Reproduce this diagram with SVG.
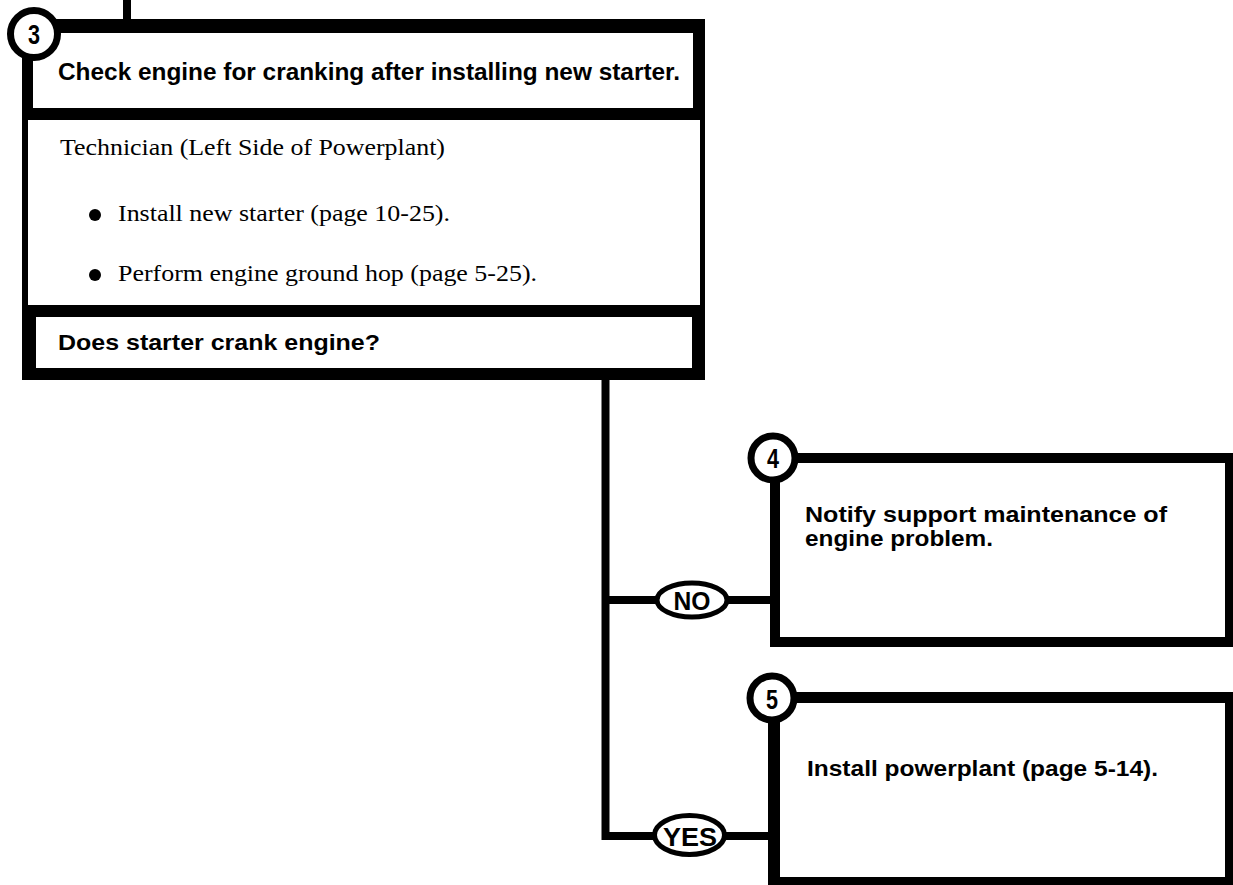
<svg xmlns="http://www.w3.org/2000/svg" width="1233" height="885" viewBox="0 0 1233 885">
<style>
.bg{fill:#fff}
.blk{fill:#000}
.wh{fill:#fff}
.ring{fill:#fff;stroke:#000;stroke-width:7}
.oval{fill:#fff;stroke:#000;stroke-width:5}
.ln{fill:none;stroke:#000;stroke-width:8}
.b{font-family:"Liberation Sans",Arial,sans-serif;font-weight:bold;fill:#000}
.s{font-family:"Liberation Serif","Times New Roman",serif;fill:#000}
.num{font-family:"Liberation Sans Narrow","Liberation Sans",Arial,sans-serif;font-weight:bold;fill:#000;text-anchor:middle}
</style>
<rect class="bg" x="0" y="0" width="1233" height="885"/>
<g id="connectors">
  <path class="ln" d="M127 0 V22" stroke-width="10"/>
  <path class="ln" d="M605.5 378 V836 H655"/>
  <path class="ln" d="M605.5 600 H658"/>
  <path class="ln" d="M727 600 H772"/>
  <path class="ln" d="M724 836 H770"/>
</g>
<g id="label-no">
  <ellipse class="oval" cx="692" cy="600" rx="35" ry="17"/>
  <text class="b" x="692" y="610" font-size="25" text-anchor="middle" textLength="37" lengthAdjust="spacingAndGlyphs">NO</text>
</g>
<g id="label-yes">
  <ellipse class="oval" cx="689.5" cy="835" rx="35" ry="19.5"/>
  <text class="b" x="690" y="846" font-size="25" text-anchor="middle" textLength="54" lengthAdjust="spacingAndGlyphs">YES</text>
</g>
<g id="node3">
  <rect class="blk" x="22" y="19" width="683" height="361"/>
  <rect class="wh" x="33" y="33" width="660" height="75"/>
  <rect class="wh" x="28" y="120" width="672" height="185"/>
  <rect class="wh" x="36" y="317" width="656" height="51"/>
  <circle class="ring" cx="34" cy="34" r="23.5"/>
  <text class="num" x="34" y="44" font-size="28" textLength="12" lengthAdjust="spacingAndGlyphs">3</text>
  <text class="b" x="58" y="80" font-size="23" textLength="622" lengthAdjust="spacingAndGlyphs">Check engine for cranking after installing new starter.</text>
  <text class="s" x="60" y="155" font-size="23" textLength="385" lengthAdjust="spacingAndGlyphs">Technician (Left Side of Powerplant)</text>
  <circle class="blk" cx="95" cy="215" r="6"/>
  <text class="s" x="118" y="221" font-size="23" textLength="332" lengthAdjust="spacingAndGlyphs">Install new starter (page 10-25).</text>
  <circle class="blk" cx="95" cy="275" r="6"/>
  <text class="s" x="118" y="281" font-size="23" textLength="419" lengthAdjust="spacingAndGlyphs">Perform engine ground hop (page 5-25).</text>
  <text class="b" x="58" y="350" font-size="22" textLength="322" lengthAdjust="spacingAndGlyphs">Does starter crank engine?</text>
</g>
<g id="node4">
  <rect class="blk" x="770" y="453" width="463" height="194"/>
  <rect class="wh" x="780" y="463" width="445" height="174"/>
  <circle class="ring" cx="773" cy="458" r="22"/>
  <text class="num" x="773" y="468" font-size="28" textLength="12" lengthAdjust="spacingAndGlyphs">4</text>
  <text class="b" x="805" y="522" font-size="22" textLength="362" lengthAdjust="spacingAndGlyphs">Notify support maintenance of</text>
  <text class="b" x="805" y="546" font-size="22" textLength="188" lengthAdjust="spacingAndGlyphs">engine problem.</text>
</g>
<g id="node5">
  <rect class="blk" x="768" y="692" width="465" height="193"/>
  <rect class="wh" x="780" y="703" width="445" height="174"/>
  <circle class="ring" cx="772" cy="698" r="22"/>
  <text class="num" x="772" y="709" font-size="28" textLength="12" lengthAdjust="spacingAndGlyphs">5</text>
  <text class="b" x="807" y="776" font-size="22" textLength="351" lengthAdjust="spacingAndGlyphs">Install powerplant (page 5-14).</text>
</g>
</svg>
